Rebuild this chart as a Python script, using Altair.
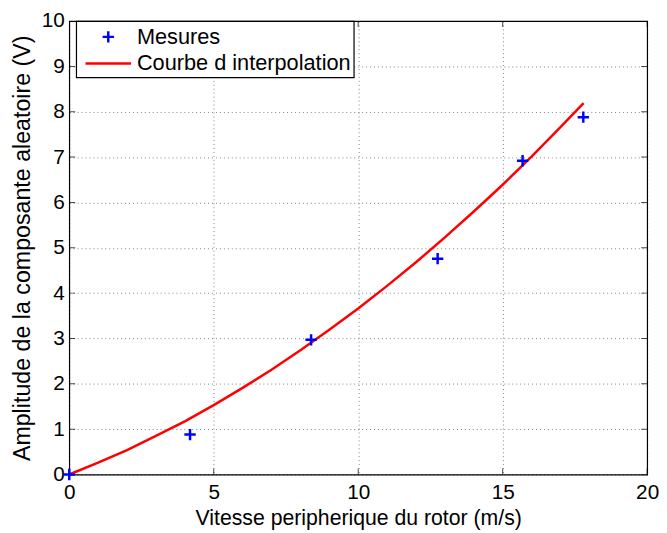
import altair as alt
import pandas as pd

# Measured points
mes_x = [0.0, 4.18, 8.37, 12.75, 15.69, 17.79]
mes_y = [0.0, 0.88, 2.97, 4.76, 6.92, 7.88]

# Interpolation curve
curve_x = [0, 1, 2, 3, 4, 5, 6, 7, 8, 9, 10, 11, 12, 13, 14, 15, 16, 17, 17.8]
curve_y = [0.0, 0.26, 0.54, 0.85, 1.17, 1.53, 1.91, 2.31, 2.74, 3.19, 3.66,
           4.16, 4.68, 5.23, 5.80, 6.39, 7.01, 7.66, 8.19]

x_ticks = [0, 5, 10, 15, 20]
y_ticks = [0, 1, 2, 3, 4, 5, 6, 7, 8, 9, 10]

series = ["Mesures", "Courbe d interpolation"]
FONT = "Liberation Sans"
FS = 21.5
FT = 21
W, H = 585, 459

pts = pd.DataFrame({"x": mes_x, "y": mes_y, "serie": series[0]})
crv = pd.DataFrame({"x": curve_x, "y": curve_y, "serie": series[1]})
xt = pd.DataFrame({"v": x_ticks})
yt = pd.DataFrame({"v": y_ticks})

xs = alt.Scale(domain=[0, 20], nice=False, zero=False)
ys = alt.Scale(domain=[0, 10], nice=False, zero=False)

xax = alt.Axis(values=x_ticks, title="Vitesse peripherique du rotor (m/s)", grid=True,
               ticks=False, labelPadding=7, titlePadding=6)
yax = alt.Axis(values=y_ticks, title="Amplitude de la composante aleatoire (V)", grid=True,
               ticks=False, labelPadding=5, titlePadding=7, titleFontSize=23.5)

leg = alt.Legend(title=None, orient="none", legendX=7, legendY=0)
color = alt.Color("serie:N", scale=alt.Scale(domain=series, range=["#0000ff", "#ff0000"]),
                  legend=leg)
shape = alt.Shape("serie:N", scale=alt.Scale(domain=series,
                  range=["M-0.5,0H0.5M0,-0.5V0.5", "M-2,0H2"]),
                  legend=leg)

line = alt.Chart(crv).mark_line(strokeWidth=2.5).encode(
    x=alt.X("x:Q", scale=xs, axis=xax),
    y=alt.Y("y:Q", scale=ys, axis=yax),
    color=color,
)
points = alt.Chart(pts).mark_point(filled=False, size=529, strokeWidth=2.5, opacity=1).encode(
    x=alt.X("x:Q", scale=xs),
    y=alt.Y("y:Q", scale=ys),
    color=color,
    shape=shape,
)

tick_style = dict(color="black", thickness=1, size=12, clip=True)
bt = alt.Chart(xt).mark_tick(orient="vertical", **tick_style).encode(
    x=alt.X("v:Q", scale=xs), y=alt.datum(0, scale=ys))
tt = alt.Chart(xt).mark_tick(orient="vertical", **tick_style).encode(
    x=alt.X("v:Q", scale=xs), y=alt.datum(10, scale=ys))
lt = alt.Chart(yt).mark_tick(orient="horizontal", **tick_style).encode(
    y=alt.Y("v:Q", scale=ys), x=alt.datum(0, scale=xs))
rt = alt.Chart(yt).mark_tick(orient="horizontal", **tick_style).encode(
    y=alt.Y("v:Q", scale=ys), x=alt.datum(20, scale=xs))

chart = alt.layer(bt, tt, lt, rt, line, points).properties(
    width=W, height=H,
    autosize=alt.AutoSizeParams(type="none"),
    padding={"left": 62, "top": 10, "right": 12, "bottom": 56},
).configure_view(
    stroke="black", strokeWidth=1.2
).configure_axis(
    labelFont=FONT, titleFont=FONT, labelFontSize=FT, titleFontSize=FS,
    labelColor="black", titleColor="black", titleFontWeight="normal",
    domain=False, gridColor="#000000", gridDash=[1, 3], gridOpacity=0.5, gridWidth=1,
    labelFlush=False,
).configure_legend(
    labelFont=FONT, labelFontSize=22, labelColor="black", labelLimit=0,
    strokeColor="black", fillColor="white", padding=3, cornerRadius=0,
    symbolSize=529, symbolStrokeWidth=2.5, symbolOffset=16.5, labelOffset=16,
    rowPadding=3, strokeWidth=1.2,
)

chart.save("out.html", embed_options={"renderer": "svg", "actions": False})
